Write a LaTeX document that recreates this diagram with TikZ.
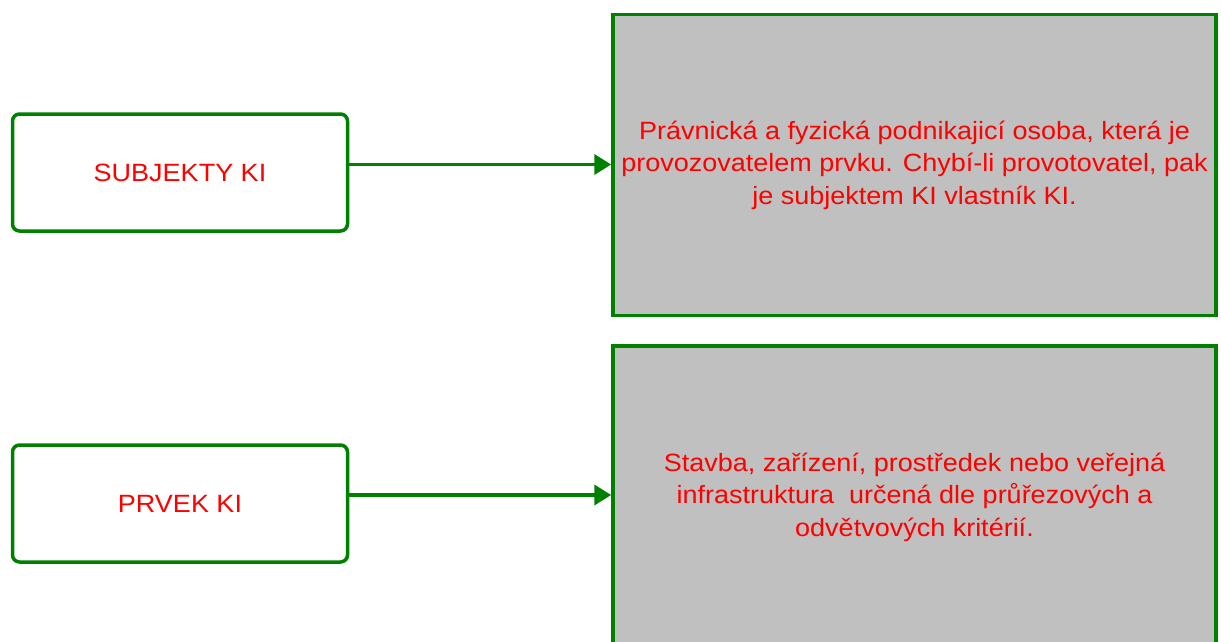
\documentclass[tikz,border=0pt]{standalone}
\usepackage{fontspec}
\setmainfont{Liberation Sans}[FakeStretch=1.08]
\usetikzlibrary{arrows.meta}
\definecolor{kgreen}{RGB}{0,128,0}
\definecolor{kgray}{RGB}{192,192,192}
\definecolor{kred}{RGB}{255,0,0}
\begin{document}
\begin{tikzpicture}[x=1pt,y=-1pt,
  leftbox/.style={draw=kgreen, line width=3.5pt, rounded corners=7pt, fill=white,
    minimum width=335pt, minimum height=117pt, inner sep=0pt,
    text=kred, font=\fontsize{25}{32.5}\selectfont},
  rightbox/.style={draw=kgreen, line width=3.5pt, fill=kgray,
    minimum width=603pt, inner sep=0pt, align=center,
    text=kred, font=\fontsize{25}{32.5}\selectfont},
  conn/.style={draw=kgreen, line width=3.8pt, -{Triangle[length=17pt,width=20pt]}}]
\clip (0,0) rectangle (1221,642);
\useasboundingbox (0,0) rectangle (1221,642);
\node[leftbox] (L1) at (180,172.5) {SUBJEKTY KI};
\node[leftbox] (L2) at (180,503.5) {PRVEK KI};
\node[rightbox, minimum height=301pt] (R1) at (914.5,165)
  {Právnická a fyzická podnikajicí osoba, která je\\
   provozovatelem prvku. Chybí-li provotovatel, pak\\
   je subjektem KI vlastník KI.};
\node[rightbox, minimum height=302pt] (R2) at (914.5,497)
  {Stavba, zařízení, prostředek nebo veřejná\\
   infrastruktura\ \ určená dle průřezových a\\
   odvětvových kritérií.};
\draw[conn] (L1.east |- 0,164.5) -- (R1.west |- 0,164.5);
\draw[conn] (L2.east |- 0,495) -- (R2.west |- 0,495);
\end{tikzpicture}
\end{document}
